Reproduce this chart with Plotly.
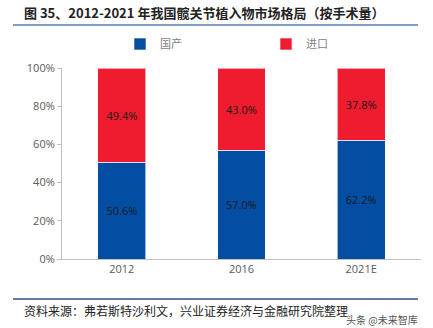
import plotly.graph_objects as go

categories = ["2012", "2016", "2021E"]
domestic = [50.6, 57.0, 62.2]
imported = [49.4, 43.0, 37.8]
series_names = ["国产", "进口"]
y_ticks = [0, 20, 40, 60, 80, 100]
y_tick_labels = ["0%", "20%", "40%", "60%", "80%", "100%"]

BLUE = "#034EA2"
RED = "#EE1C2E"
W, H = 433, 328

fig = go.Figure()
for name, vals, color, lg in [(series_names[0], domestic, BLUE, "legend"),
                              (series_names[1], imported, RED, "legend2")]:
    fig.add_trace(go.Bar(
        x=categories, y=vals, name=name, legend=lg,
        marker=dict(color=color, line=dict(color="rgba(255,255,255,0.6)", width=1)),
        text=[f"{v:.1f}%" for v in vals], textposition="inside",
        insidetextanchor="middle",
        textfont=dict(color="#1a1a1a", size=11, family="Open Sans"),
        width=0.4,
    ))

leg_common = dict(orientation="h", xref="paper", yref="paper", y=1 + (68 - 44) / 191,
                  yanchor="middle", xanchor="left",
                  font=dict(size=11, color="#7f7f7f", family="Noto Sans CJK SC"),
                  itemwidth=30, bgcolor="rgba(0,0,0,0)")

fig.update_layout(
    barmode="stack",
    width=W, height=H,
    margin=dict(l=62, r=12, t=68, b=69),
    paper_bgcolor="white", plot_bgcolor="white",
    showlegend=True,
    legend=dict(x=(120 - 62) / 359, **leg_common),
    legend2=dict(x=(266 - 62) / 359, **leg_common),
    xaxis=dict(showline=True, linecolor="#bfbfbf", linewidth=1, ticks="",
               tickfont=dict(size=11, color="#595959", family="Open Sans"),
               range=[-0.5, 2.5]),
    yaxis=dict(range=[0, 100], tickvals=y_ticks, ticktext=y_tick_labels,
               showline=True, linecolor="#bfbfbf", linewidth=1,
               ticks="outside", ticklen=4, tickcolor="#bfbfbf",
               showgrid=False, zeroline=False,
               tickfont=dict(size=11, color="#595959", family="Open Sans")),
    font=dict(family="Noto Sans CJK SC"),
)

# title
fig.add_annotation(text="<b>图 35、2012-2021 年我国髋关节植入物市场格局（按手术量）</b>",
                   xref="paper", yref="paper", x=(22 - 62) / 359, y=1 + (68 - 12) / 191,
                   xanchor="left", yanchor="middle", showarrow=False,
                   font=dict(size=13, color="#222222", family="Noto Sans CJK SC"))
# source
fig.add_annotation(text="资料来源：弗若斯特沙利文，兴业证券经济与金融研究院整理",
                   xref="paper", yref="paper", x=(22 - 62) / 359, y=-(310 - 259) / 191,
                   xanchor="left", yanchor="middle", showarrow=False,
                   font=dict(size=12, color="#222222", family="Noto Sans CJK SC"))
fig.add_annotation(text="头条 @未来智库",
                   xref="paper", yref="paper", x=(420 - 62) / 359, y=-(319 - 259) / 191,
                   xanchor="right", yanchor="middle", showarrow=False,
                   font=dict(size=10, color="#555555", family="Noto Sans CJK SC"))
# rule lines
fig.add_shape(type="line", xref="paper", yref="paper",
              x0=(13 - 62) / 359, x1=(418 - 62) / 359,
              y0=1 + (68 - 25) / 191, y1=1 + (68 - 25) / 191,
              line=dict(color="#5a7bb0", width=1.5))
fig.add_shape(type="line", xref="paper", yref="paper",
              x0=(13 - 62) / 359, x1=(418 - 62) / 359,
              y0=-(299 - 259) / 191, y1=-(299 - 259) / 191,
              line=dict(color="#2f4f86", width=1.5))

fig.write_html("out.html")
